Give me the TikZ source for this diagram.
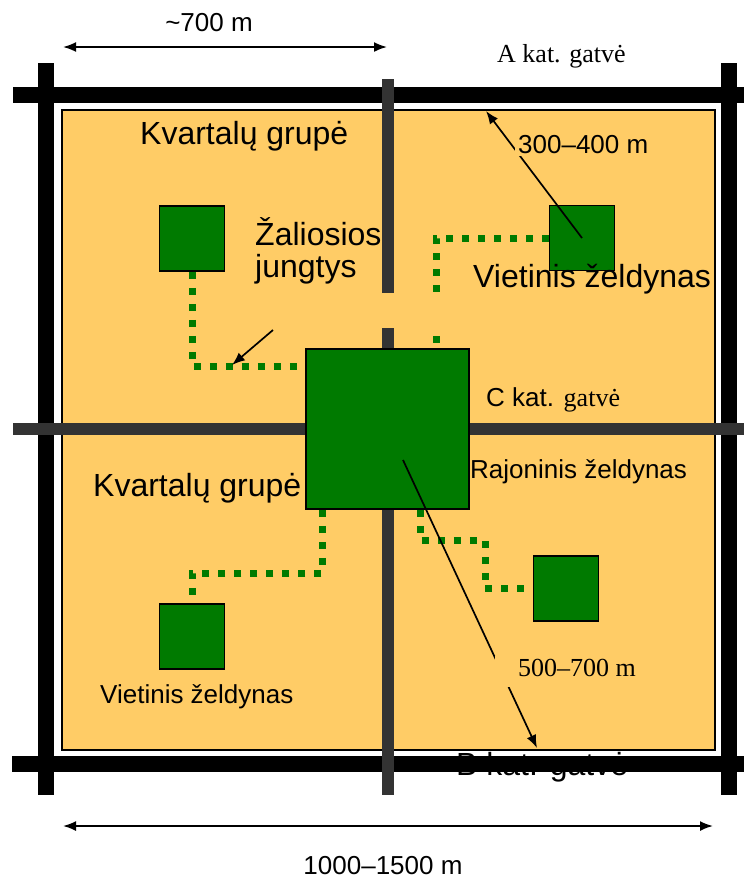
\documentclass[tikz,border=0pt]{standalone}
\usepackage{fontspec}
\setmainfont{Liberation Serif}
\setsansfont{Liberation Sans}
\usetikzlibrary{arrows.meta}
\definecolor{plotorange}{RGB}{255,204,102}
\definecolor{parkgreen}{RGB}{0,122,0}
\definecolor{roadgray}{RGB}{51,51,51}
\tikzset{
  road-a/.style={line width=16pt, draw=black},
  road-c/.style={line width=12pt, draw=roadgray},
  park/.style={draw=black, line width=1.5pt, fill=parkgreen, inner sep=0pt, minimum width=65pt, minimum height=65pt},
  link/.style={draw=parkgreen, line width=7pt, dash pattern=on 7pt off 9pt},
  pointer/.style={line width=1.7pt, -{Latex[length=13pt,width=10pt]}},
  dim/.style={line width=1.8pt, {Latex[length=13pt,width=10pt]}-{Latex[length=13pt,width=10pt]}},
  lbl/.style={font=\sffamily\fontsize{26}{30}\selectfont, inner sep=0pt},
  lbl-big/.style={font=\sffamily\fontsize{32}{32}\selectfont, inner sep=0pt},
  lbl-serif/.style={font=\rmfamily\fontsize{26}{30}\selectfont, inner sep=0pt}
}

\begin{document}
\begin{tikzpicture}[x=1pt, y=-1pt]
  \useasboundingbox (0,0) rectangle (744,884);
  % district block
  \draw[fill=plotorange, line width=1.5pt] (62,110) rectangle (715,750);
  % this one sits under the B road
  \node[lbl-big, anchor=base west] (b-road) at (456,775) {B kat. gatvė};
  % A and B roads
  \draw[road-a] (13,95) -- (744,95);
  \draw[road-a] (12,764) -- (744,764);
  \foreach \x in {46,729} {
    \draw[road-a] (\x,63) -- (\x,795);
  }
  % C roads
  \draw[road-c] (13,429) -- (744,429);
  \draw[road-c] (388,79) -- (388,293);
  \draw[road-c] (388,328) -- (388,795);
  % green areas
  \node[park, minimum width=163pt, minimum height=160pt] (rajon) at (387.5,429) {};
  \node[park] (park-tl) at (192,238.5) {};
  \node[park] (park-tr) at (582,238) {};
  \node[park] (park-br) at (566,588.5) {};
  \node[park] (park-bl) at (192,636.5) {};
  % green links
  \coordinate (tl-bend) at (192,366);
  \draw[link] (park-tl.south) -- (tl-bend) -- (tl-bend -| rajon.west);
  \coordinate (tr-bend) at (436,238);
  \coordinate (tr-cut) at (436,298);
  \coordinate (tr-dot) at (436,336);
  \draw[link] (park-tr.west) -- (tr-bend) -- (tr-cut);
  \draw[link] (tr-dot) -- (tr-bend |- rajon.north);
  \coordinate (bl-bend) at (322,573);
  \draw[link] (bl-bend |- rajon.south) -- (bl-bend) -- (bl-bend -| park-bl.north) -- (park-bl.north);
  \coordinate (br-bend) at (420,540);
  \coordinate (br-step) at (485,588.5);
  \draw[link] (br-bend |- rajon.south) -- (br-bend) -- (br-bend -| br-step) -- (br-step) -- (park-br.west);
  % pointers
  \coordinate (zal-from) at (273,330);
  \coordinate (zal-to) at (232,365);
  \draw[pointer] (zal-from) -- (zal-to);
  \coordinate (a-edge) at (486,111);
  \draw[pointer] (park-tr.center) -- (a-edge);
  \coordinate (rajon-mid) at (403,460);
  \coordinate (b-edge) at (537,748);
  \draw[pointer] (rajon-mid) -- (b-edge);
  \node[lbl, fill=plotorange, inner sep=3pt, anchor=base west] (d-small) at (515,153) {300–400 m};
  \node[lbl-serif, fill=plotorange, inner xsep=23pt, inner ysep=3pt, text depth=8pt, anchor=base west] (d-large) at (495,676) {500–700 m};
  % labels
  \node[lbl-serif, anchor=base west] (a-road) at (497,62) {A kat. gatvė};
  \node[lbl, anchor=base west] (c-road) at (486,406) {C kat. {\rmfamily gatvė}};
  \node[lbl-big, anchor=base west] (grp-top) at (140,144) {Kvartalų grupė};
  \node[lbl-big, anchor=base west] (grp-bot) at (93,496) {Kvartalų grupė};
  \node[lbl-big, align=left, anchor=base west] (zal) at (255,277) {Žaliosios\\jungtys};
  \node[lbl-big, anchor=base west] (viet-tr) at (473,287) {Vietinis želdynas};
  \node[lbl, anchor=base west] (viet-bl) at (100,703) {Vietinis želdynas};
  \node[lbl, anchor=base west] (rajon-lbl) at (470,478) {Rajoninis želdynas};
  % dimensions
  \coordinate (w-left) at (63,47);
  \coordinate (w-right) at (387,47);
  \draw[dim] (w-left) -- (w-right);
  \node[lbl] (w-lbl) at (209,23) {\textasciitilde700 m};
  \coordinate (s-left) at (63,826);
  \coordinate (s-right) at (713,826);
  \draw[dim] (s-left) -- (s-right);
  \node[lbl] (s-lbl) at (383,866) {1000–1500 m};
\end{tikzpicture}
\end{document}
